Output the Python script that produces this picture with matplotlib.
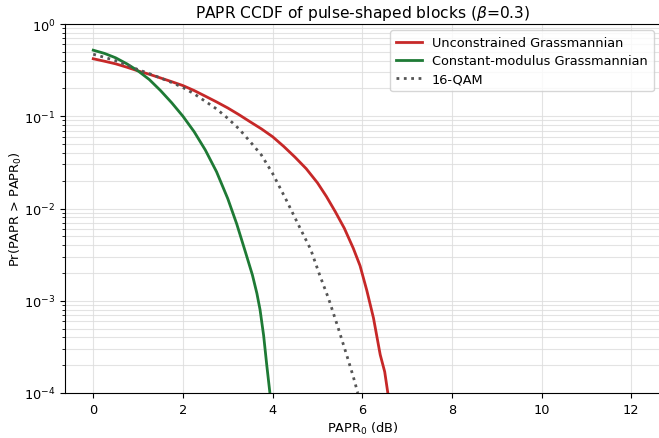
import matplotlib
matplotlib.use("Agg")
import matplotlib.pyplot as plt
import numpy as np

# CCDF curves (x in dB)
x_unc = [0.0, 0.25, 0.5, 0.75, 1.0, 1.25, 1.5, 1.75, 2.0, 2.25, 2.5, 2.75, 3.0, 3.25, 3.5, 3.75, 4.0,
         4.25, 4.5, 4.75, 5.0, 5.2, 5.4, 5.6, 5.8, 5.95, 6.1, 6.25, 6.4, 6.5, 6.57]
p_unc = [0.42, 0.395, 0.37, 0.34, 0.31, 0.285, 0.26, 0.237, 0.215, 0.19, 0.165, 0.143, 0.123, 0.104,
         0.087, 0.073, 0.06, 0.047, 0.036, 0.027, 0.019, 0.0135, 0.0092, 0.0061, 0.0037, 0.0024,
         0.0013, 0.00065, 0.00026, 0.00017, 0.0001]

x_cm = [0.0, 0.25, 0.5, 0.75, 1.0, 1.25, 1.5, 1.75, 2.0, 2.25, 2.5, 2.75, 3.0, 3.2, 3.4, 3.55, 3.65,
        3.72, 3.8, 3.87, 3.94]
p_cm = [0.52, 0.48, 0.43, 0.37, 0.31, 0.25, 0.19, 0.14, 0.10, 0.068, 0.043, 0.025, 0.0128, 0.0068,
        0.0033, 0.0019, 0.0012, 0.0008, 0.00042, 0.0002, 0.0001]

x_qam = [0.0, 0.25, 0.5, 0.75, 1.0, 1.25, 1.5, 1.75, 2.0, 2.25, 2.5, 2.75, 3.0, 3.25, 3.5, 3.75, 4.0,
         4.3, 4.6, 4.85, 5.05, 5.25, 5.45, 5.65, 5.8, 5.9]
p_qam = [0.47, 0.435, 0.40, 0.36, 0.32, 0.29, 0.26, 0.232, 0.205, 0.175, 0.145, 0.12, 0.095, 0.073,
         0.053, 0.038, 0.024, 0.0125, 0.0063, 0.0036, 0.0019, 0.00105, 0.00053, 0.00026, 0.00015, 0.0001]

plt.rcParams['font.size'] = 9.3

fig = plt.figure(figsize=(6.59, 4.39), dpi=100)
ax = fig.add_axes([65 / 659, 45 / 439, 595 / 659, 369 / 439])

ax.semilogy(x_unc, p_unc, color='#c62828', lw=2, label='Unconstrained Grassmannian')
ax.semilogy(x_cm, p_cm, color='#1e7a35', lw=2, label='Constant-modulus Grassmannian')
ax.semilogy(x_qam, p_qam, color='#555555', lw=2, ls=':', label='16-QAM')

ax.set_xlim(-0.63, 12.64)
ax.set_ylim(1e-4, 1)
ax.set_xticks(np.arange(0, 13, 2))
ax.grid(True, which='both', color='#dddddd', lw=0.8, alpha=0.8)
ax.spines['right'].set_visible(False)

ax.set_title(r'PAPR CCDF of pulse-shaped blocks ($\beta$=0.3)', fontsize=11.2, pad=5)
ax.set_xlabel(r'PAPR$_0$ (dB)', labelpad=3)
ax.set_ylabel(r'Pr(PAPR > PAPR$_0$)', labelpad=0)
ax.legend(loc='upper right', labelspacing=0.4, borderpad=0.45)

fig.savefig('out.png', dpi=100)
